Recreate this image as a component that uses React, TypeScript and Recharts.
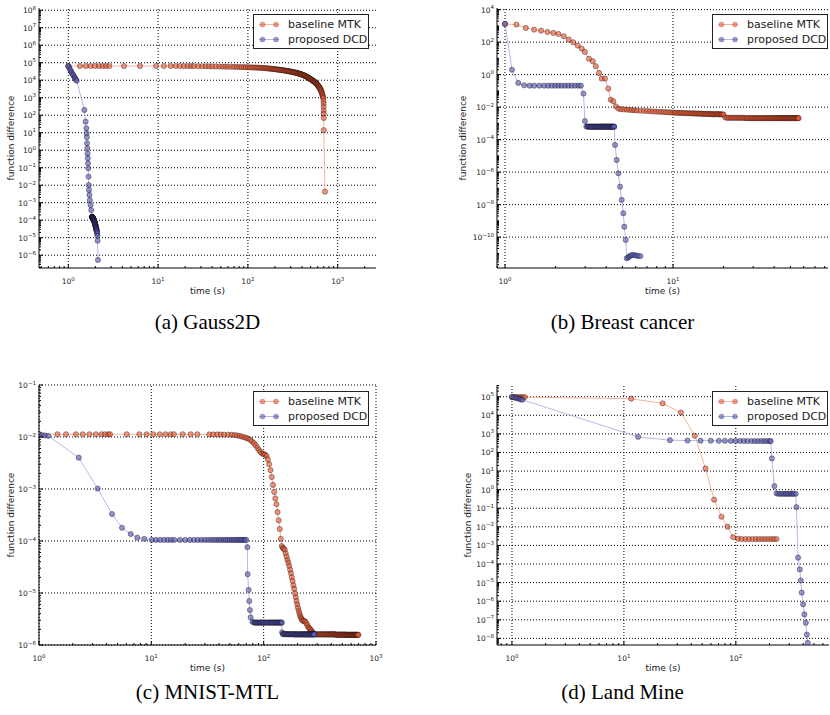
import React from 'react';
import { LineChart, Line, XAxis, YAxis, ReferenceLine } from 'recharts';

type Pt = [number, number];

// (a) Gauss2D
const gaussMTK: Pt[] = [
  [1, 65000], [1.35, 65000], [1.57, 65000], [1.77, 65000], [1.98, 65000], [2.2, 65000], [2.41, 65000],
  [2.63, 65000], [2.86, 65000], [4.17, 65000], [6.29, 65000], [9.5, 65000], [11.6, 65000], [13.8, 65000],
  [15.7, 65000], [17.5, 65000], [19.4, 64500], [21.4, 64500], [23.2, 64500],
  [25, 64000], [28, 63500], [31, 63000], [34, 62500], [37, 62000], [40, 61500], [44, 61000], [48, 60500],
  [52, 60000], [56, 59500], [60, 59000], [65, 58500], [70, 58000], [75, 57500], [80, 57000], [85, 56500],
  [90, 56000], [95, 55500], [100, 55000], [105, 54500], [110, 54000], [115, 53500], [120, 53000],
  [125, 52500], [130, 52000], [135, 51500], [140, 51000], [145, 50200], [150, 49500], [155, 49000],
  [160, 48500], [165, 47700], [170, 47000], [175, 46200], [180, 45500], [185, 44700], [190, 44000],
  [195, 43200], [200, 42500], [205, 42000], [210, 41500], [215, 40700], [220, 40000], [225, 39500],
  [230, 39000], [235, 38200], [240, 37500], [245, 37000], [250, 36500], [255, 36000], [260, 35500],
  [265, 34700], [270, 34000], [275, 33500], [280, 33000], [285, 32500], [290, 32000], [295, 31500],
  [300, 31000], [305, 30500], [310, 30000], [315, 29500], [320, 29000], [325, 28500], [330, 28000],
  [335, 27500], [340, 27000], [345, 26500], [350, 26000], [355, 25500], [360, 25000], [365, 24500],
  [370, 24000], [375, 23500], [380, 23000], [385, 22500], [390, 22000], [395, 21500], [400, 21000],
  [405, 20500], [410, 20000], [415, 19500], [420, 19000], [425, 18500], [430, 18000], [435, 17500],
  [440, 17000], [445, 16500], [450, 16000], [455, 15500], [460, 15000], [465, 14500], [470, 14000],
  [475, 13500], [480, 13000], [485, 12600], [490, 12200], [495, 11800], [500, 11500], [505, 11100],
  [510, 10800], [515, 10400], [520, 10000], [525, 9700], [530, 9400], [535, 9100], [540, 8800],
  [545, 8500], [550, 8300], [555, 7900], [560, 7600], [565, 7300], [570, 7000], [575, 6700], [580, 6400],
  [585, 6100], [590, 5800], [595, 5500], [600, 5200], [605, 4900], [610, 4700], [615, 4400], [620, 4200],
  [625, 3900], [630, 3700], [635, 3400], [640, 3200], [645, 2900], [650, 2700], [655, 2400], [660, 2200],
  [665, 1900], [670, 1700], [675, 1500], [680, 1300], [685, 1100], [690, 950], [695, 650], [697, 450],
  [698, 300], [698, 180], [699, 120], [700, 70], [700, 14], [722, 0.0043],
];
const gaussDCD: Pt[] = [
  [1, 67000], [1.02, 55000], [1.045, 42000], [1.07, 33000], [1.09, 27000], [1.12, 22000], [1.14, 19000],
  [1.17, 15000], [1.19, 13000], [1.22, 11000], [1.24, 9300], [1.51, 200], [1.56, 43], [1.59, 18],
  [1.6, 9.3], [1.61, 5.5], [1.62, 2.5], [1.63, 1.3], [1.64, 0.66], [1.65, 0.35], [1.66, 0.18],
  [1.67, 0.093], [1.68, 0.031], [1.69, 0.0103], [1.7, 0.0054], [1.72, 0.0028], [1.74, 0.0014],
  [1.77, 0.00074], [1.8, 0.00038], [1.83, 0.00016], [1.835, 0.000158], [1.84, 0.000155], [1.845, 0.000152],
  [1.85, 0.00015], [1.855, 0.000148], [1.86, 0.000145], [1.865, 0.000142], [1.87, 0.00014],
  [1.875, 0.000138], [1.88, 0.000135], [1.885, 0.000132], [1.89, 0.00013], [1.895, 0.000126],
  [1.9, 0.000122], [1.905, 0.000118], [1.91, 0.000115], [1.915, 0.000112], [1.92, 0.000108],
  [1.925, 0.000104], [1.93, 0.0001], [1.935, 0.000096], [1.94, 0.000093], [1.945, 0.00009],
  [1.95, 0.000086], [1.955, 0.000082], [1.96, 0.000079], [1.965, 0.000075], [1.97, 0.000072],
  [1.975, 0.000069], [1.98, 0.000066], [1.985, 0.000063], [1.99, 0.00006], [1.995, 0.000057],
  [2.0, 0.000054], [2.005, 0.000051], [2.01, 0.000049], [2.015, 0.000046], [2.02, 0.000044],
  [2.025, 0.000042], [2.03, 0.00004], [2.035, 0.000038], [2.04, 0.000036], [2.045, 0.000034],
  [2.05, 0.000032], [2.055, 0.00003], [2.06, 0.000028], [2.065, 0.000026], [2.07, 0.000025],
  [2.08, 0.000022], [2.09, 0.00002], [2.1, 0.000017], [2.11, 0.000013], [2.12, 0.0000068],
  [2.14, 0.00000054],
];

// (b) Breast cancer
const breastMTK: Pt[] = [
  [1, 1320], [1.17, 1200], [1.33, 750], [1.49, 590], [1.64, 510], [1.79, 425], [1.94, 370], [2.08, 320],
  [2.24, 230], [2.4, 142], [2.55, 98], [2.71, 61], [2.86, 40], [2.99, 25], [3.16, 9.6], [3.33, 6.7],
  [3.47, 3.3], [3.63, 1.27], [3.76, 0.57], [3.94, 0.57], [4.12, 0.138], [4.26, 0.029], [4.41, 0.023],
  [4.57, 0.0113], [4.73, 0.0081], [4.9, 0.0075], [5.1, 0.0072], [5.3, 0.007], [5.5, 0.0068], [5.7, 0.0066],
  [5.9, 0.0064], [6.1, 0.0062], [6.4, 0.006], [6.7, 0.0059], [7, 0.0057], [7.3, 0.0056], [7.6, 0.0054],
  [7.9, 0.0053], [8.2, 0.0052], [8.5, 0.0051], [8.8, 0.005], [9.1, 0.0049], [9.4, 0.0048], [9.7, 0.0047],
  [10, 0.0046], [10.25, 0.0046], [10.5, 0.0045], [10.75, 0.0045], [11, 0.0044], [11.25, 0.0044],
  [11.5, 0.0043], [11.75, 0.0043], [12, 0.0043], [12.25, 0.0042], [12.5, 0.0042], [12.75, 0.0042],
  [13, 0.0041], [13.25, 0.0041], [13.5, 0.0041], [13.75, 0.004], [14, 0.004], [14.25, 0.004],
  [14.5, 0.004], [14.75, 0.0039], [15, 0.0039], [15.25, 0.0039], [15.5, 0.0039], [15.75, 0.0038],
  [16, 0.0038], [16.25, 0.0038], [16.5, 0.0038], [16.75, 0.0037], [17, 0.0037], [17.25, 0.0037],
  [17.5, 0.0036], [17.75, 0.0036], [18, 0.0037], [18.25, 0.0037], [18.5, 0.0037], [18.75, 0.0036],
  [19, 0.0036], [19.25, 0.0036], [19.5, 0.0036], [19.75, 0.0035], [20, 0.0035], [20.5, 0.0023],
  [21, 0.0022], [21.5, 0.0022], [22, 0.0022], [22.5, 0.0022], [23, 0.0022], [23.5, 0.0022], [24, 0.0022],
  [24.5, 0.0022], [25, 0.0022], [25.5, 0.0022], [26, 0.0022], [26.5, 0.0022], [27, 0.0021], [27.5, 0.0021],
  [28, 0.0021], [28.5, 0.0021], [29, 0.0021], [29.5, 0.0021], [30, 0.0021], [30.5, 0.0021], [31, 0.0021],
  [31.5, 0.0021], [32, 0.0021], [32.5, 0.0021], [33, 0.0021], [33.5, 0.0021], [34, 0.0021], [34.5, 0.0021],
  [35, 0.0021], [35.5, 0.0021], [36, 0.0021], [36.5, 0.0021], [37, 0.0021], [37.5, 0.0021], [38, 0.0021],
  [38.5, 0.0021], [39, 0.0021], [39.5, 0.0021], [40, 0.0021], [40.5, 0.0021], [41, 0.0021], [41.5, 0.0021],
  [42, 0.0021], [42.5, 0.0021], [43, 0.0021], [43.5, 0.0021], [44, 0.0021], [44.5, 0.0021], [45, 0.0021],
  [45.5, 0.0021], [46, 0.0021], [46.5, 0.0021], [47, 0.0021], [47.5, 0.0021], [48, 0.0021], [48.5, 0.0021],
  [49, 0.0021], [49.5, 0.0021], [50, 0.0021], [50.5, 0.0021], [51, 0.0021], [51.5, 0.0021], [52, 0.0021],
  [52.5, 0.0021], [53, 0.0021], [53.5, 0.0021], [54, 0.0021], [54.5, 0.0021], [55, 0.0021], [55.5, 0.0021],
  [56, 0.0021],
];
const breastDCD: Pt[] = [
  [1, 1320], [1.1, 2.0], [1.2, 0.31], [1.3, 0.22], [1.4, 0.21], [1.49, 0.21], [1.6, 0.21], [1.71, 0.21],
  [1.81, 0.21], [1.9, 0.21], [1.99, 0.21], [2.08, 0.21], [2.17, 0.21], [2.28, 0.21], [2.38, 0.21],
  [2.49, 0.21], [2.61, 0.21], [2.73, 0.21], [2.83, 0.21], [2.93, 0.068], [2.99, 0.0014], [3.05, 0.00065],
  [3.1, 0.00063], [3.13, 0.00063], [3.16, 0.00063], [3.19, 0.00063], [3.22, 0.00063], [3.25, 0.00063],
  [3.28, 0.00063], [3.31, 0.00063], [3.34, 0.00063], [3.37, 0.00063], [3.4, 0.00063], [3.43, 0.00063],
  [3.46, 0.00063], [3.49, 0.00063], [3.52, 0.00063], [3.55, 0.00063], [3.58, 0.00063], [3.61, 0.00063],
  [3.64, 0.00063], [3.67, 0.00063], [3.7, 0.00063], [3.73, 0.00063], [3.76, 0.00063], [3.79, 0.00063],
  [3.82, 0.00063], [3.85, 0.00063], [3.88, 0.00063], [3.91, 0.00063], [3.94, 0.00063], [3.97, 0.00063],
  [4.0, 0.00063], [4.03, 0.00063], [4.06, 0.00063], [4.09, 0.00063], [4.12, 0.00063], [4.15, 0.00063],
  [4.18, 0.00063], [4.21, 0.00063], [4.24, 0.00063], [4.27, 0.00063], [4.3, 0.00063], [4.33, 0.00063],
  [4.36, 0.00063], [4.39, 0.00063], [4.42, 0.00063], [4.45, 0.00063], [4.47, 0.00063],
  [4.52, 4.7e-5], [4.62, 5.6e-6], [4.73, 8.5e-7], [4.84, 1.27e-7], [4.95, 1.95e-8], [5.06, 2.95e-9],
  [5.13, 4.4e-10], [5.23, 6.7e-11], [5.3, 5e-12], [5.4, 5.5e-12], [5.5, 6.5e-12], [5.6, 7.5e-12],
  [5.75, 8e-12], [5.9, 7.8e-12], [6.05, 7.3e-12], [6.2, 7e-12], [6.4, 6.8e-12],
];

// (c) MNIST-MTL
const mnistMTK: Pt[] = [
  [1, 0.0113], [1.46, 0.0113], [1.74, 0.0113], [2.13, 0.0113], [2.45, 0.0113], [2.81, 0.0113],
  [3.21, 0.0113], [3.61, 0.0113], [3.87, 0.0113], [4.14, 0.0113], [4.29, 0.0113], [6.04, 0.0113],
  [7.82, 0.0113], [9.08, 0.0113], [10.4, 0.0113], [11.9, 0.0113], [13.4, 0.0113], [14.9, 0.0113],
  [15.9, 0.0113], [19, 0.0113], [22.4, 0.0113], [25.7, 0.0113], [32.8, 0.0112], [35.6, 0.0112],
  [38.7, 0.0112], [41.4, 0.0112], [44.4, 0.0111], [48.4, 0.0111], [51.9, 0.011], [55, 0.0109],
  [58, 0.0107], [61, 0.0105], [64, 0.0102], [67, 0.0099], [70, 0.0096], [73, 0.0093], [76, 0.0088],
  [79, 0.0082], [82, 0.0076], [85, 0.0069], [88, 0.0062], [91, 0.0056], [94, 0.0051], [97, 0.0048],
  [100, 0.0047], [103, 0.0046], [106, 0.0043], [109, 0.0037], [112, 0.003], [115, 0.0023], [118, 0.0017],
  [121, 0.0012], [124, 0.00088], [127, 0.00066], [130, 0.00051], [133, 0.00036], [136, 0.00025],
  [139, 0.00017], [142, 0.00011], [145, 0.00008], [148, 0.000074], [151, 0.000071], [154, 0.000068],
  [157, 0.000058], [160, 0.00005], [163, 0.000043], [166, 0.000038], [169, 0.000033], [172, 0.000028],
  [175, 0.000024], [178, 0.00002], [181, 0.000017], [184, 0.000014], [187, 0.000012], [190, 0.0000098],
  [193, 0.0000083], [196, 0.000007], [199, 0.000006], [202, 0.0000052], [205, 0.0000046],
  [208, 0.0000041], [211, 0.0000037], [214, 0.0000034], [217, 0.0000032], [220, 0.000003],
  [225, 0.0000029], [230, 0.0000029], [235, 0.0000028], [240, 0.0000026], [245, 0.0000024],
  [250, 0.0000022], [255, 0.0000021], [260, 0.000002], [265, 0.0000019], [270, 0.0000018],
  [275, 0.0000017], [280, 0.00000165], [285, 0.0000016], [290, 0.0000016], [295, 0.0000016],
  [300, 0.0000016], [305, 0.0000016], [310, 0.0000016], [315, 0.0000016], [320, 0.0000016],
  [325, 0.0000016], [330, 0.0000016], [335, 0.0000016], [340, 0.0000016], [345, 0.0000016],
  [350, 0.0000016], [355, 0.0000016], [360, 0.0000016], [365, 0.0000016], [370, 0.0000016],
  [375, 0.0000016], [380, 0.0000016], [385, 0.0000016], [390, 0.0000016], [395, 0.0000016],
  [400, 0.0000016], [405, 0.0000016], [410, 0.0000016], [415, 0.0000016], [420, 0.0000016],
  [425, 0.0000016], [430, 0.0000016], [435, 0.0000016], [440, 0.00000158], [445, 0.00000158],
  [450, 0.00000158], [455, 0.00000158], [460, 0.00000158], [465, 0.00000158], [470, 0.00000158],
  [475, 0.00000158], [480, 0.00000158], [485, 0.00000158], [490, 0.00000158], [495, 0.00000158],
  [500, 0.00000158], [505, 0.00000158], [510, 0.00000158], [515, 0.00000158], [520, 0.00000158],
  [525, 0.00000158], [530, 0.00000158], [535, 0.00000158], [540, 0.00000158], [545, 0.00000157],
  [550, 0.00000157], [555, 0.00000157], [560, 0.00000157], [565, 0.00000157], [570, 0.00000157],
  [575, 0.00000157], [580, 0.00000157], [585, 0.00000157], [590, 0.00000157], [595, 0.00000157],
  [600, 0.00000157], [605, 0.00000157], [610, 0.00000157], [615, 0.00000157], [620, 0.00000157],
  [625, 0.00000157], [630, 0.00000157], [635, 0.00000157], [640, 0.00000157], [645, 0.00000157],
  [650, 0.00000157], [655, 0.00000157], [660, 0.00000157], [665, 0.00000157], [670, 0.00000157],
  [675, 0.00000157], [680, 0.00000157], [685, 0.00000157], [690, 0.00000157], [697, 0.00000157],
];
const mnistDCD: Pt[] = [
  [1, 0.0113], [1.06, 0.0109], [1.13, 0.0107], [1.21, 0.0105], [2.26, 0.004], [3.33, 0.00102],
  [4.47, 0.00033], [5.48, 0.00018], [6.55, 0.000136], [7.5, 0.000116], [8.66, 0.00011], [10.1, 0.000105],
  [11, 0.000105], [12, 0.000105], [13, 0.000105], [14, 0.000105], [15, 0.000105], [16, 0.000105],
  [18, 0.000105], [20, 0.000105], [22, 0.000105], [24, 0.000105], [26, 0.000105], [28, 0.000105],
  [30, 0.000105], [32, 0.000105], [34, 0.000105], [36, 0.000105], [38, 0.000105], [40, 0.000105],
  [42, 0.000105], [44, 0.000105], [46, 0.000105], [48, 0.000105], [50, 0.000105], [52, 0.000105],
  [54, 0.000105], [56, 0.000105], [58, 0.000105], [60, 0.000105], [62, 0.000105], [64, 0.000105],
  [66, 0.000105], [68, 0.000105], [70, 0.000105], [71.6, 0.000076], [72, 0.000023], [73.5, 0.0000115],
  [74.5, 0.000007], [75.5, 0.0000047], [76.6, 0.0000034], [79.4, 0.0000028], [82, 0.0000027],
  [83.5, 0.0000027], [85, 0.0000027], [86.5, 0.0000027], [88, 0.0000027], [89.5, 0.0000027],
  [91, 0.0000027], [92.5, 0.0000027], [94, 0.0000027], [95.5, 0.0000027], [97, 0.0000027],
  [98.5, 0.0000027], [100, 0.0000027], [102, 0.0000027], [104, 0.0000027], [106, 0.0000027],
  [108, 0.0000027], [110, 0.0000027], [112, 0.0000027], [114, 0.0000027], [116, 0.0000027],
  [118, 0.0000027], [120, 0.0000027], [122, 0.0000027], [124, 0.0000027], [126, 0.0000027],
  [128, 0.0000027], [130, 0.0000027], [132, 0.0000027], [134, 0.0000027], [136, 0.0000027],
  [138, 0.0000027], [140, 0.0000027], [142, 0.0000027], [144, 0.0000027], [145, 0.0000027],
  [146, 0.00000175], [148, 0.00000163], [150, 0.00000162], [152.5, 0.00000162], [155, 0.00000162],
  [157.5, 0.00000162], [160, 0.00000162], [162.5, 0.00000161], [165, 0.00000161], [167.5, 0.00000161],
  [170, 0.00000161], [172.5, 0.00000161], [175, 0.00000161], [177.5, 0.00000161], [180, 0.00000161],
  [182.5, 0.00000161], [185, 0.00000161], [187.5, 0.0000016], [190, 0.0000016], [192.5, 0.0000016],
  [195, 0.0000016], [197.5, 0.0000016], [200, 0.0000016], [202.5, 0.0000016], [205, 0.0000016],
  [207.5, 0.0000016], [210, 0.0000016], [212.5, 0.0000016], [215, 0.0000016], [217.5, 0.0000016],
  [220, 0.0000016], [222.5, 0.0000016], [225, 0.0000016], [227.5, 0.0000016], [230, 0.0000016],
  [232.5, 0.0000016], [235, 0.0000016], [237.5, 0.0000016], [240, 0.0000016], [242.5, 0.0000016],
  [245, 0.0000016], [247.5, 0.0000016], [250, 0.0000016], [252.5, 0.0000016], [255, 0.0000016],
  [257.5, 0.0000016], [260, 0.0000016], [262.5, 0.0000016], [265, 0.0000016], [267.5, 0.0000016],
  [270, 0.0000016], [272.5, 0.0000016], [275, 0.0000016], [277.5, 0.0000016], [280, 0.0000016],
  [283, 0.0000016],
];

// (d) Land Mine
const landMTK: Pt[] = [
  [1, 95000], [1.05, 95000], [1.1, 95000], [1.15, 95000], [1.2, 95000], [1.25, 95000], [1.3, 95000],
  [11.6, 78000], [22.2, 44000], [32.3, 14000], [43, 790], [53.6, 13.8], [64, 0.29], [74.5, 0.035],
  [84.3, 0.0102], [94.6, 0.0028], [105, 0.0023], [113, 0.0022], [122, 0.0022], [131, 0.0022],
  [141, 0.0022], [151, 0.0022], [161, 0.0022], [172, 0.0022], [183, 0.0022], [195, 0.0022],
  [207, 0.0022], [219, 0.0022], [231, 0.0022],
];
const landDCD: Pt[] = [
  [1, 98000], [1.04, 92000], [1.08, 87000], [1.12, 82000], [1.16, 77000], [1.2, 72000], [1.24, 68000],
  [13.4, 690], [25.8, 460], [37, 440], [48.4, 430], [59.8, 430], [70.5, 425], [79.8, 425], [90.2, 420],
  [99.3, 420], [109, 420], [118, 415], [127, 415], [138, 415], [148, 410], [158, 410], [169, 410],
  [179, 410], [189, 410], [200, 410], [205, 410], [210, 48], [221, 1.55], [231, 0.63], [240, 0.6],
  [250, 0.6], [260, 0.6], [270, 0.6], [280, 0.6], [290, 0.6], [300, 0.6], [310, 0.6], [320, 0.6],
  [330, 0.6], [343, 0.6], [348, 0.115], [360, 0.00022], [373, 0.000051], [380, 0.000013],
  [388, 0.0000029], [399, 6.8e-7], [410, 1.95e-7], [422, 6.9e-8], [431, 1.6e-8], [439, 5.8e-9],
];

// major ticks
const gaussX = [1, 10, 100, 1000];
const gaussY = [1e-6, 1e-5, 1e-4, 1e-3, 1e-2, 1e-1, 1, 10, 100, 1e3, 1e4, 1e5, 1e6, 1e7, 1e8];
const breastX = [1, 10];
const breastY = [1e-10, 1e-8, 1e-6, 1e-4, 1e-2, 1, 100, 1e4];
const mnistX = [1, 10, 100, 1000];
const mnistY = [1e-6, 1e-5, 1e-4, 1e-3, 1e-2, 1e-1];
const landX = [1, 10, 100];
const landY = [1e-8, 1e-7, 1e-6, 1e-5, 1e-4, 1e-3, 1e-2, 1e-1, 1, 10, 100, 1e3, 1e4, 1e5];

const legendNames = ['baseline MTK', 'proposed DCD'];
const captions = ['(a) Gauss2D', '(b) Breast cancer', '(c) MNIST-MTL', '(d) Land Mine'];

// marker fills are semi-transparent with a dark edge, so dense runs of markers darken
const MTK_DOT = '#ea5a35';
const MTK_LINE = '#f5b3a2';
const DCD_DOT = '#5a5ab8';
const DCD_LINE = '#b9b9e6';
const DOT_ALPHA = 0.62;
const EDGE_ALPHA = 0.4;
const EDGE_W = 0.9;
const FONT = '"DejaVu Sans", sans-serif';

const rows = (pts: Pt[]) => pts.map(([t, v]) => ({ t, v }));

// log ticks 1..9 per decade inside a range
const minorTicks = (lo: number, hi: number) => {
  const out: number[] = [];
  for (let k = Math.floor(Math.log10(lo)); k <= Math.ceil(Math.log10(hi)); k++) {
    for (let m = 1; m <= 9; m++) {
      const v = m * Math.pow(10, k);
      if (v >= lo && v <= hi) out.push(v);
    }
  }
  return out;
};

const Pow = ({ x, y, v, anchor }: { x: number; y: number; v: number; anchor: 'middle' | 'end' }) => {
  const e = Math.round(Math.log10(v));
  return (
    <text x={x} y={y} textAnchor={anchor} fontFamily={FONT} fontSize={7.5} fill="#222">
      10
      <tspan dy={-3.5} fontSize={5.5}>{e < 0 ? `\u2212${-e}` : `${e}`}</tspan>
    </text>
  );
};

const makeTick = (side: 'bottom' | 'top' | 'left' | 'right', majors: number[]) => (props: any) => {
  const { x, y, payload } = props;
  const v = payload.value;
  const major = majors.some((m) => Math.abs(v / m - 1) < 1e-6);
  const len = major ? 4 : 2;
  if (side === 'bottom')
    return (
      <g>
        <line x1={x} x2={x} y1={y} y2={y - len} stroke="#000" />
        {major && <Pow x={x} y={y + 16} v={v} anchor="middle" />}
      </g>
    );
  if (side === 'top') return <line x1={x} x2={x} y1={y} y2={y + len} stroke="#000" />;
  if (side === 'left')
    return (
      <g>
        <line x1={x} x2={x + len} y1={y} y2={y} stroke="#000" />
        {major && <Pow x={x - 3} y={y + 3} v={v} anchor="end" />}
      </g>
    );
  return <line x1={x} x2={x - len} y1={y} y2={y} stroke="#000" />;
};

const XLabel = ({ viewBox }: any) => (
  <text x={viewBox.x + viewBox.width / 2} y={viewBox.y + 26} textAnchor="middle" fontFamily={FONT} fontSize={9} fill="#222">
    time (s)
  </text>
);

const YLabel = ({ cx, cy }: { cx: number; cy: number }) => (
  <text
    x={cx}
    y={cy}
    textAnchor="middle"
    dominantBaseline="central"
    transform={`rotate(-90, ${cx}, ${cy})`}
    fontFamily={FONT}
    fontSize={9}
    fill="#222"
  >
    function difference
  </text>
);

type PanelProps = {
  left: number;
  top: number;
  plot: { l: number; t: number; r: number; b: number };
  xDomain: [number, number];
  yDomain: [number, number];
  xMajor: number[];
  yMajor: number[];
  mtk: Pt[];
  dcd: Pt[];
  caption: string;
  captionY: number;
  yLabelX: number;
  legend: { x: number; y: number };
};

const W = 415;
const H = 355;

const Panel = (p: PanelProps) => {
  const xTicks = [...new Set([...p.xMajor, ...minorTicks(p.xDomain[0], p.xDomain[1])])].sort((a, b) => a - b);
  const yTicks = [...new Set([...p.yMajor, ...minorTicks(p.yDomain[0], p.yDomain[1])])].sort((a, b) => a - b);
  const dot = (fill: string) => ({
    r: 2.6,
    fill,
    fillOpacity: DOT_ALPHA,
    stroke: '#000',
    strokeOpacity: EDGE_ALPHA,
    strokeWidth: EDGE_W,
  });
  const xCommon = {
    type: 'number' as const,
    scale: 'log' as const,
    domain: p.xDomain,
    allowDataOverflow: true,
    ticks: xTicks,
    interval: 0 as const,
    tickSize: 0,
    tickMargin: 0,
    tickLine: false,
    axisLine: { stroke: '#000', strokeWidth: 1 },
  };
  const yCommon = {
    type: 'number' as const,
    scale: 'log' as const,
    domain: p.yDomain,
    allowDataOverflow: true,
    ticks: yTicks,
    interval: 0 as const,
    tickSize: 0,
    tickMargin: 0,
    tickLine: false,
    axisLine: { stroke: '#000', strokeWidth: 1 },
  };
  return (
    <div style={{ position: 'absolute', left: p.left, top: p.top, width: W, height: H }}>
      <LineChart width={W} height={H} margin={{ top: p.plot.t, right: W - p.plot.r, bottom: 0, left: 0 }}>
        {p.xMajor.map((v) => (
          <ReferenceLine key={`gx${v}`} x={v} stroke="#000" strokeDasharray="1 2" strokeWidth={1} />
        ))}
        {p.yMajor.map((v) => (
          <ReferenceLine key={`gy${v}`} y={v} stroke="#000" strokeDasharray="1 2" strokeWidth={1} />
        ))}
        <XAxis {...xCommon} dataKey="t" height={H - p.plot.b} tick={makeTick('bottom', p.xMajor)} label={<XLabel />} />
        <XAxis {...xCommon} xAxisId="top" orientation="top" height={0} tick={makeTick('top', p.xMajor)} />
        <YAxis {...yCommon} width={p.plot.l} tick={makeTick('left', p.yMajor)} />
        <YAxis {...yCommon} yAxisId="right" orientation="right" width={0} tick={makeTick('right', p.yMajor)} />
        <Line
          data={rows(p.mtk)}
          dataKey="v"
          type="linear"
          stroke={MTK_LINE}
          strokeWidth={1}
          dot={dot(MTK_DOT)}
          activeDot={false}
          isAnimationActive={false}
        />
        <Line
          data={rows(p.dcd)}
          dataKey="v"
          type="linear"
          stroke={DCD_LINE}
          strokeWidth={1}
          dot={dot(DCD_DOT)}
          activeDot={false}
          isAnimationActive={false}
        />
      </LineChart>
      <svg style={{ position: 'absolute', left: 0, top: 0, pointerEvents: 'none' }} width={W} height={H}>
        <YLabel cx={p.yLabelX} cy={(p.plot.t + p.plot.b) / 2} />
      </svg>
      <div
        style={{
          position: 'absolute',
          left: p.legend.x,
          top: p.legend.y,
          width: 116,
          height: 35,
          boxSizing: 'border-box',
          border: '1.5px solid #222',
          background: '#fff',
        }}
      >
        {legendNames.map((name, i) => {
          const c = i === 0 ? [MTK_LINE, MTK_DOT] : [DCD_LINE, DCD_DOT];
          return (
            <div key={name} style={{ position: 'absolute', left: 0, top: 2 + i * 15, height: 15, display: 'flex', alignItems: 'center' }}>
              <svg width={32} height={15}>
                <line x1={5} x2={25} y1={7.5} y2={7.5} stroke={c[0]} strokeWidth={1} />
                {[8.5, 22].map((cx) => (
                  <circle
                    key={cx}
                    cx={cx}
                    cy={7.5}
                    r={2.6}
                    fill={c[1]}
                    fillOpacity={DOT_ALPHA}
                    stroke="#000"
                    strokeOpacity={0.2}
                    strokeWidth={0.6}
                  />
                ))}
              </svg>
              <span style={{ fontFamily: FONT, fontSize: 11, color: '#222', marginLeft: 2, whiteSpace: 'nowrap' }}>{name}</span>
            </div>
          );
        })}
      </div>
      <div
        style={{
          position: 'absolute',
          left: 0,
          width: W,
          top: p.captionY - 13,
          height: 26,
          lineHeight: '26px',
          textAlign: 'center',
          fontFamily: '"Liberation Serif", serif',
          fontSize: 21,
          color: '#000',
        }}
      >
        {p.caption}
      </div>
    </div>
  );
};

export default function App() {
  return (
    <div style={{ position: 'absolute', left: 0, top: 0, width: 830, height: 715, background: '#fff', overflow: 'hidden' }}>
      <Panel
        left={0}
        top={0}
        plot={{ l: 39, t: 8, r: 376, b: 268 }}
        xDomain={[0.472, 2670]}
        yDomain={[1.86e-7, 1.34e8]}
        xMajor={gaussX}
        yMajor={gaussY}
        mtk={gaussMTK}
        dcd={gaussDCD}
        caption={captions[0]}
        captionY={322}
        yLabelX={11}
        legend={{ x: 253, y: 14 }}
      />
      <Panel
        left={415}
        top={0}
        plot={{ l: 82, t: 8, r: 413, b: 268 }}
        xDomain={[0.896, 83.7]}
        yDomain={[1.26e-12, 1.26e4]}
        xMajor={breastX}
        yMajor={breastY}
        mtk={breastMTK}
        dcd={breastDCD}
        caption={captions[1]}
        captionY={322}
        yLabelX={48}
        legend={{ x: 297, y: 14 }}
      />
      <Panel
        left={0}
        top={355}
        plot={{ l: 39, t: 30, r: 376, b: 290 }}
        xDomain={[1, 1000]}
        yDomain={[1e-6, 0.1]}
        xMajor={mnistX}
        yMajor={mnistY}
        mtk={mnistMTK}
        dcd={mnistDCD}
        caption={captions[2]}
        captionY={337}
        yLabelX={11}
        legend={{ x: 253, y: 36 }}
      />
      <Panel
        left={415}
        top={355}
        plot={{ l: 82, t: 30, r: 414, b: 290 }}
        xDomain={[0.735, 680]}
        yDomain={[4.4e-9, 4.27e5]}
        xMajor={landX}
        yMajor={landY}
        mtk={landMTK}
        dcd={landDCD}
        caption={captions[3]}
        captionY={337}
        yLabelX={53}
        legend={{ x: 297, y: 36 }}
      />
    </div>
  );
}
